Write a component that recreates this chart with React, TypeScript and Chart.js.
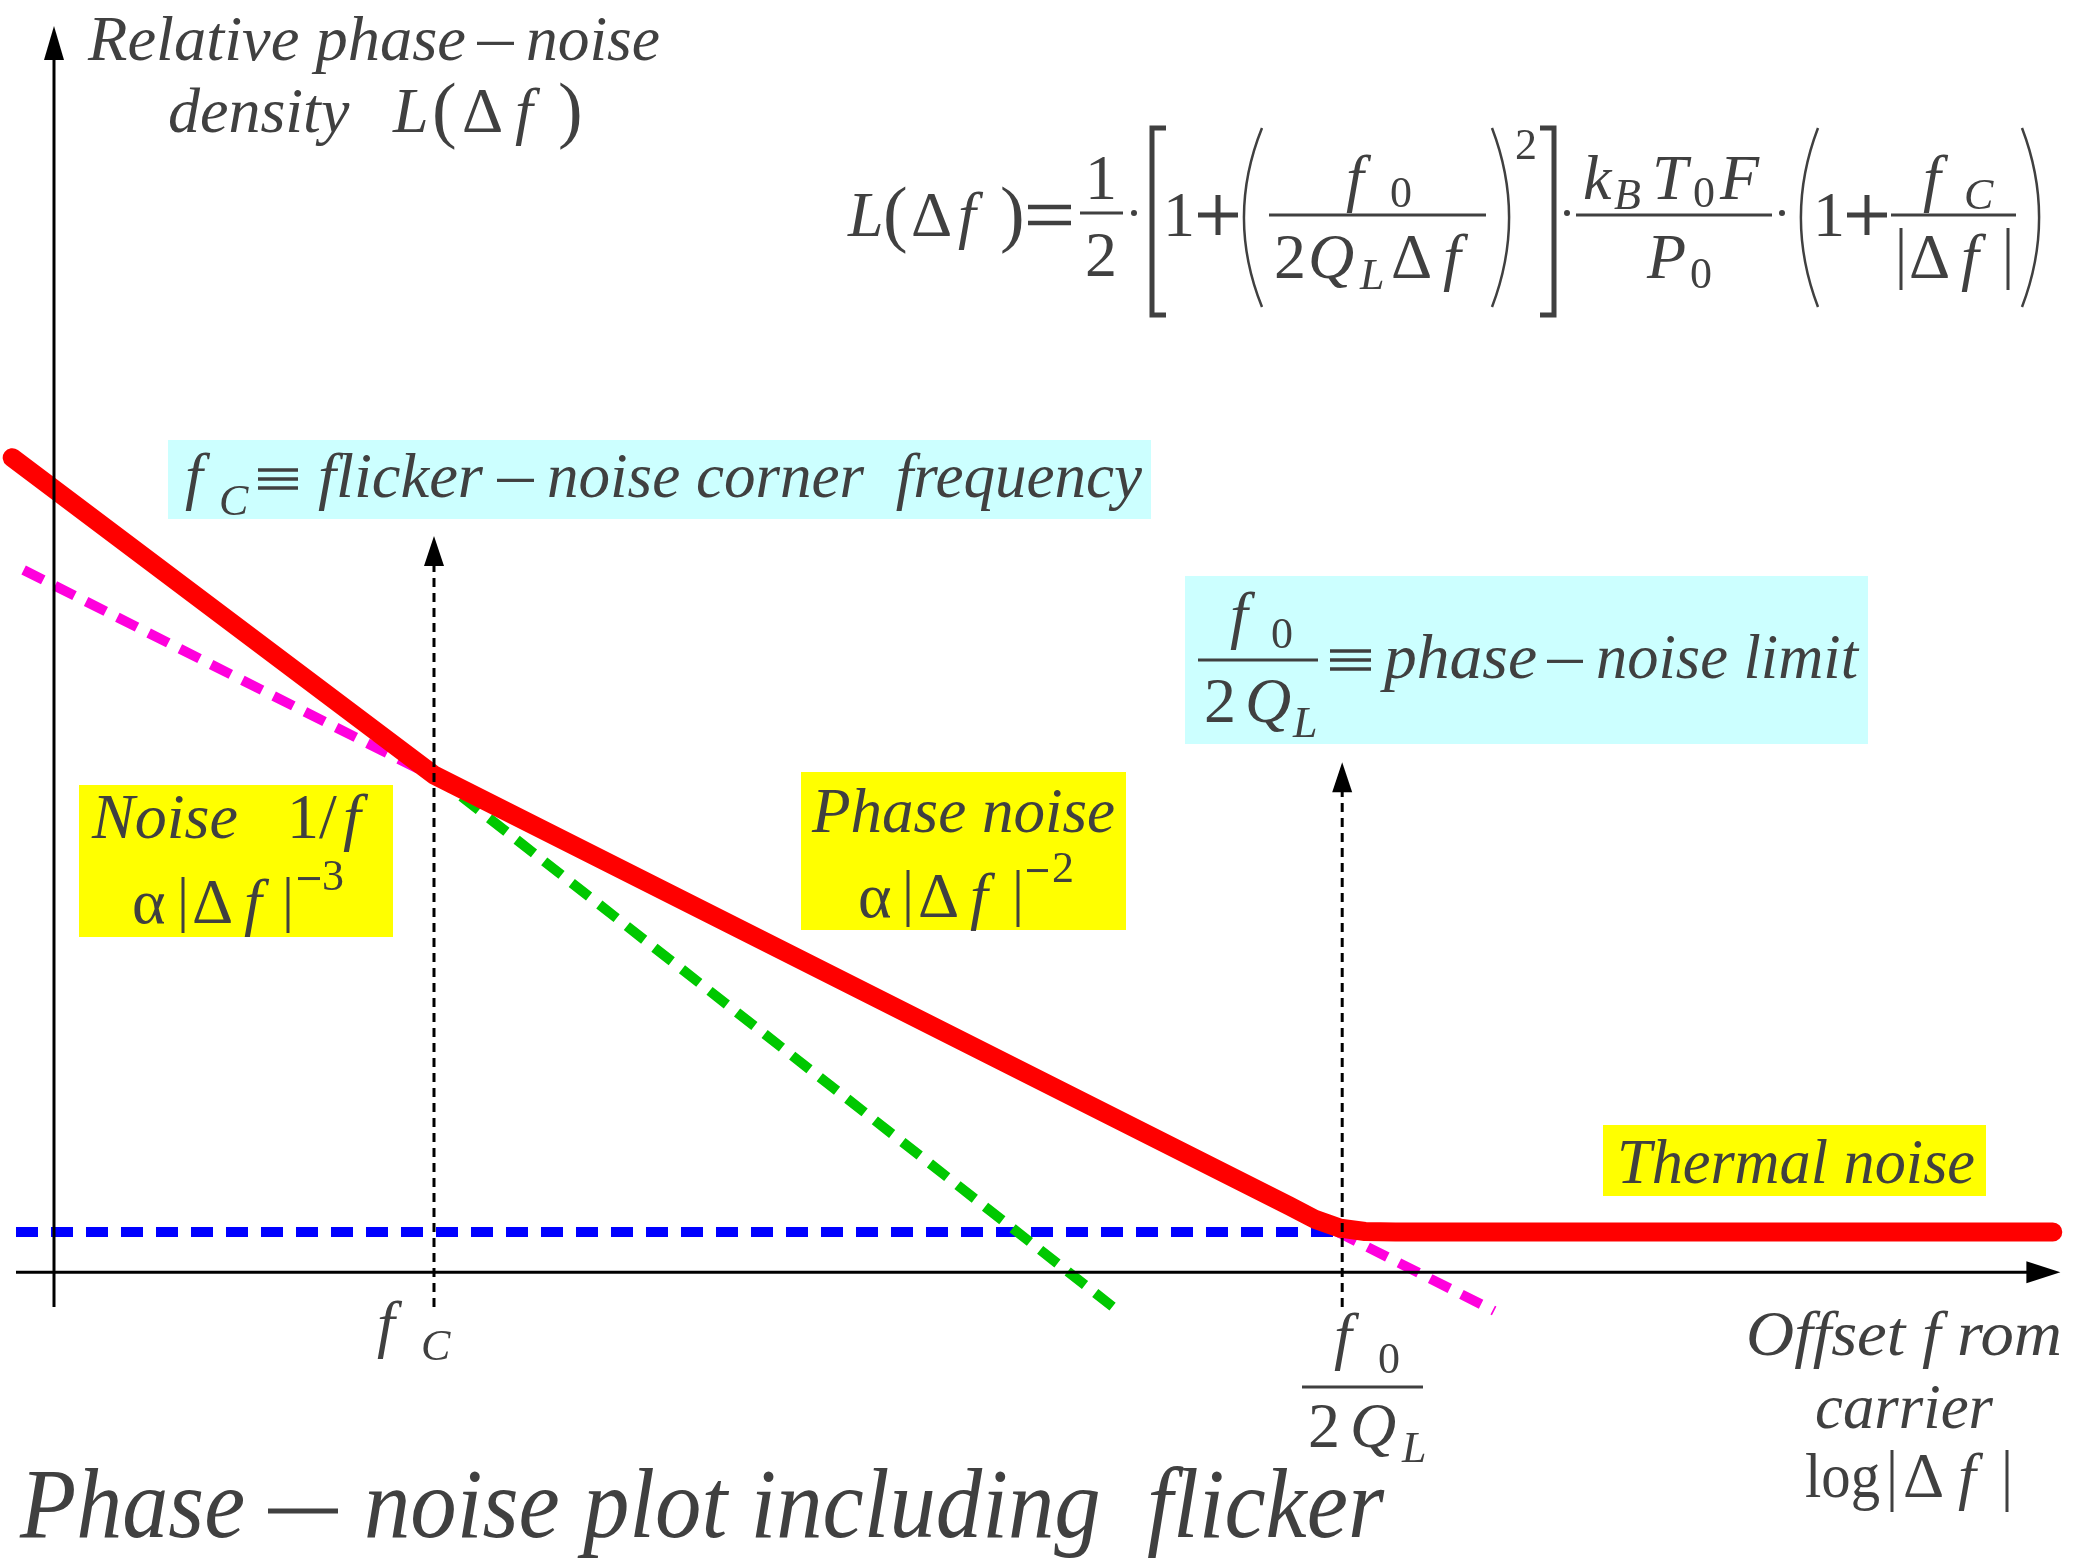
import React, { useEffect, useRef } from 'react';
import { Chart, registerables } from 'chart.js';
Chart.register(...registerables);

// ---------- data: x = log10 offset (decades), y = L(Δf) in dBc/Hz ----------
const totalLogF = [-0.22, 2.0, 6.5, 6.64, 6.77, 6.9, 7.06, 10.52];
const totalDb = [-8, -74.4, -164.5, -167.4, -169.2, -169.9, -170, -170];
const leesonLogF = [-0.16, 7.58];
const leesonDb = [-31.5, -186.5];
const flickerLogF = [2.0, 5.6];
const flickerDb = [-74.4, -186.5];
const thermalLogF = [-0.2, 6.78];
const thermalDb = [-170, -170];
const markerLogF = [2.0, 6.78]; // fC , f0/2QL
const markerTopDb = [-24.4, -71.7];
const markerBottomDb = -185.7;
const xAxisLogF = [-0.2, 10.56];
const xAxisDb = -178.4;
const yAxisLogF = 0;
const yAxisDb = [-185.7, 82.3];

// ---------- layout ----------
const W = 2077;
const H = 1558;
const X_MIN = -0.2842;
const X_MAX = 10.6474;
const Y_MIN = -238.2;
const Y_MAX = 87.74;
const FONT = '"Liberation Serif", "Times New Roman", serif';
const INK = '#404040';

const pts = (xs: number[], ys: number[]) => xs.map((x, i) => ({ x, y: ys[i] }));

function font(ctx: CanvasRenderingContext2D, size: number, it: boolean) {
  ctx.font = `${it ? 'italic ' : ''}${size}px ${FONT}`;
}
function g(ctx: CanvasRenderingContext2D, t: string, x: number, y: number, size = 64, it = false) {
  font(ctx, size, it);
  ctx.fillText(t, x, y);
}
// text fitted between x0 and x1
function fit(ctx: CanvasRenderingContext2D, t: string, x0: number, x1: number, y: number, size = 64, it = true) {
  font(ctx, size, it);
  const w = ctx.measureText(t).width;
  ctx.save();
  ctx.translate(x0, y);
  ctx.scale((x1 - x0) / w, 1);
  ctx.fillText(t, 0, 0);
  ctx.restore();
}
function bar(ctx: CanvasRenderingContext2D, x0: number, x1: number, y: number, th: number) {
  ctx.fillRect(x0, y - th / 2, x1 - x0, th);
}
function minus(ctx: CanvasRenderingContext2D, x0: number, x1: number, base: number, size = 64) {
  bar(ctx, x0, x1, base - 0.26 * size, Math.max(3, size * 0.05));
}
function equiv(ctx: CanvasRenderingContext2D, x0: number, x1: number, cy: number) {
  bar(ctx, x0, x1, cy - 9, 3.5);
  bar(ctx, x0, x1, cy, 3.5);
  bar(ctx, x0, x1, cy + 9, 3.5);
}
function plus(ctx: CanvasRenderingContext2D, cx: number, cy: number, half: number) {
  bar(ctx, cx - half, cx + half, cy, 5);
  ctx.fillRect(cx - 2.5, cy - half, 5, half * 2);
}
function line(ctx: CanvasRenderingContext2D, x1: number, y1: number, x2: number, y2: number, lw = 3) {
  ctx.lineWidth = lw;
  ctx.beginPath();
  ctx.moveTo(x1, y1);
  ctx.lineTo(x2, y2);
  ctx.stroke();
}
function dot(ctx: CanvasRenderingContext2D, x: number, y: number) {
  ctx.beginPath();
  ctx.arc(x, y, 3, 0, Math.PI * 2);
  ctx.fill();
}
function paren(ctx: CanvasRenderingContext2D, xl: number, xr: number, top: number, bot: number, left: boolean) {
  ctx.lineWidth = 2.5;
  ctx.beginPath();
  const w = xr - xl;
  if (left) {
    ctx.moveTo(xr, top);
    ctx.quadraticCurveTo(xl - w * 0.9, (top + bot) / 2, xr, bot);
  } else {
    ctx.moveTo(xl, top);
    ctx.quadraticCurveTo(xr + w * 0.9, (top + bot) / 2, xl, bot);
  }
  ctx.stroke();
}
function bracket(ctx: CanvasRenderingContext2D, xv: number, xs: number, top: number, bot: number) {
  ctx.lineWidth = 5;
  ctx.beginPath();
  ctx.moveTo(xs, top);
  ctx.lineTo(xv, top);
  ctx.lineTo(xv, bot);
  ctx.lineTo(xs, bot);
  ctx.stroke();
}

const overlay = {
  id: 'overlay',
  afterDatasetsDraw(chart: any) {
    const ctx: CanvasRenderingContext2D = chart.ctx;
    const px = (v: number) => chart.scales.x.getPixelForValue(v);
    const py = (v: number) => chart.scales.y.getPixelForValue(v);
    ctx.save();
    ctx.strokeStyle = '#000';
    ctx.fillStyle = '#000';
    // dotted marker lines with arrow heads
    markerLogF.forEach((f, i) => {
      const x = px(f);
      const yt = py(markerTopDb[i]);
      ctx.setLineDash([9, 6]);
      line(ctx, x, py(markerBottomDb), x, yt + 26, 3);
      ctx.setLineDash([]);
      ctx.beginPath();
      ctx.moveTo(x, yt);
      ctx.lineTo(x - 10, yt + 30);
      ctx.lineTo(x + 10, yt + 30);
      ctx.closePath();
      ctx.fill();
    });
    // x axis
    const ax = py(xAxisDb);
    const xr = px(xAxisLogF[1]);
    line(ctx, px(xAxisLogF[0]), ax, xr - 20, ax, 3);
    ctx.beginPath();
    ctx.moveTo(xr, ax);
    ctx.lineTo(xr - 34, ax - 11);
    ctx.lineTo(xr - 34, ax + 11);
    ctx.closePath();
    ctx.fill();
    // y axis
    const ay = px(yAxisLogF);
    const yt = py(yAxisDb[1]);
    line(ctx, ay, py(yAxisDb[0]), ay, yt + 20, 3);
    ctx.beginPath();
    ctx.moveTo(ay, yt);
    ctx.lineTo(ay - 10, yt + 34);
    ctx.lineTo(ay + 10, yt + 34);
    ctx.closePath();
    ctx.fill();
    ctx.restore();
  },
  afterDraw(chart: any) {
    const ctx: CanvasRenderingContext2D = chart.ctx;
    ctx.save();
    ctx.textBaseline = 'alphabetic';
    ctx.textAlign = 'left';
    // boxes
    ctx.fillStyle = '#ccffff';
    ctx.fillRect(168, 440, 983, 79);
    ctx.fillRect(1185, 576, 683, 168);
    ctx.fillStyle = '#ffff00';
    ctx.fillRect(79, 785, 314, 152);
    ctx.fillRect(801, 772, 325, 158);
    ctx.fillRect(1603, 1125, 383, 71);

    ctx.fillStyle = INK;
    ctx.strokeStyle = INK;
    const M = 64;
    const S = 44;
    // y-axis title
    fit(ctx, 'Relative phase', 88, 466, 60);
    minus(ctx, 477, 514, 60);
    fit(ctx, 'noise', 526, 660, 60);
    g(ctx, 'density', 168, 132, M, true);
    g(ctx, 'L', 393, 132, M, true);
    g(ctx, '(', 432, 134, 74, false);
    g(ctx, '\u0394', 462, 132, M, false);
    g(ctx, 'f', 515, 132, M, true);
    g(ctx, ')', 558, 134, 74, false);

    // formula
    g(ctx, 'L', 848, 236, M, true);
    g(ctx, '(', 883, 238, 74, false);
    g(ctx, '\u0394', 911, 236, M, false);
    g(ctx, 'f', 958, 236, M, true);
    g(ctx, ')', 1000, 238, 74, false);
    bar(ctx, 1028, 1071, 207, 4.5);
    bar(ctx, 1028, 1071, 223, 4.5);
    g(ctx, '1', 1085, 199, M, false);
    line(ctx, 1080, 213, 1123, 213, 3);
    g(ctx, '2', 1085, 276, M, false);
    dot(ctx, 1134, 213);
    bracket(ctx, 1152, 1166, 128, 315);
    g(ctx, '1', 1163, 236, M, false);
    plus(ctx, 1218, 215, 20);
    paren(ctx, 1243, 1262, 128, 307, true);
    g(ctx, 'f', 1346, 199, M, true);
    g(ctx, '0', 1390, 207, S, false);
    line(ctx, 1269, 215, 1486, 215, 3);
    g(ctx, '2', 1274, 278, M, false);
    g(ctx, 'Q', 1308, 278, M, true);
    g(ctx, 'L', 1360, 289, S, true);
    g(ctx, '\u0394', 1391, 278, M, false);
    g(ctx, 'f', 1443, 278, M, true);
    paren(ctx, 1492, 1510, 128, 307, false);
    g(ctx, '2', 1515, 159, S, false);
    bracket(ctx, 1554, 1540, 128, 315);
    dot(ctx, 1567, 213);
    g(ctx, 'k', 1583, 199, M, true);
    g(ctx, 'B', 1614, 209, S, true);
    g(ctx, 'T', 1652, 199, M, true);
    g(ctx, '0', 1693, 207, S, false);
    g(ctx, 'F', 1720, 199, M, true);
    line(ctx, 1576, 215, 1772, 215, 3);
    g(ctx, 'P', 1647, 278, M, true);
    g(ctx, '0', 1690, 288, S, false);
    dot(ctx, 1782, 213);
    paren(ctx, 1800, 1818, 128, 307, true);
    g(ctx, '1', 1813, 236, M, false);
    plus(ctx, 1867, 215, 20);
    g(ctx, 'f', 1923, 199, M, true);
    g(ctx, 'C', 1964, 209, S, true);
    line(ctx, 1891, 215, 2016, 215, 3);
    line(ctx, 1901, 228, 1901, 290, 3);
    g(ctx, '\u0394', 1909, 278, M, false);
    g(ctx, 'f', 1961, 278, M, true);
    line(ctx, 2008, 228, 2008, 290, 3);
    paren(ctx, 2022, 2040, 128, 307, false);

    // cyan box 1
    g(ctx, 'f', 185, 497, M, true);
    g(ctx, 'C', 219, 515, S, true);
    equiv(ctx, 258, 298, 479);
    fit(ctx, 'flicker', 318, 483, 497);
    minus(ctx, 497, 534, 497);
    fit(ctx, 'noise corner  frequency', 547, 1142, 497);

    // cyan box 2
    g(ctx, 'f', 1230, 636, M, true);
    g(ctx, '0', 1271, 648, S, false);
    line(ctx, 1198, 660, 1318, 660, 3);
    g(ctx, '2', 1204, 722, M, false);
    g(ctx, 'Q', 1245, 722, M, true);
    g(ctx, 'L', 1293, 737, S, true);
    equiv(ctx, 1330, 1371, 660);
    fit(ctx, 'phase', 1384, 1537, 678);
    minus(ctx, 1547, 1583, 678);
    fit(ctx, 'noise limit', 1596, 1858, 678);

    // yellow box 1
    g(ctx, 'Noise', 92, 838, M, true);
    g(ctx, '1/', 287, 838, M, false);
    g(ctx, 'f', 343, 838, M, true);
    g(ctx, '\u03b1', 132, 923, M, false);
    line(ctx, 183, 877, 183, 933, 3);
    g(ctx, '\u0394', 192, 923, M, false);
    g(ctx, 'f', 244, 923, M, true);
    line(ctx, 288, 877, 288, 933, 3);
    minus(ctx, 298, 320, 890, S);
    g(ctx, '3', 322, 890, S, false);

    // yellow box 2
    fit(ctx, 'Phase noise', 812, 1115, 832);
    g(ctx, '\u03b1', 858, 917, M, false);
    line(ctx, 908, 870, 908, 927, 3);
    g(ctx, '\u0394', 918, 917, M, false);
    g(ctx, 'f', 970, 917, M, true);
    line(ctx, 1018, 870, 1018, 927, 3);
    minus(ctx, 1027, 1048, 882, S);
    g(ctx, '2', 1052, 882, S, false);

    // yellow box 3
    fit(ctx, 'Thermal noise', 1617, 1975, 1183);

    // x-axis markers
    g(ctx, 'f', 377, 1345, M, true);
    g(ctx, 'C', 421, 1360, S, true);
    g(ctx, 'f', 1334, 1357, M, true);
    g(ctx, '0', 1378, 1373, S, false);
    line(ctx, 1302, 1387, 1423, 1387, 3);
    g(ctx, '2', 1308, 1447, M, false);
    g(ctx, 'Q', 1350, 1447, M, true);
    g(ctx, 'L', 1402, 1462, S, true);

    // x-axis title
    fit(ctx, 'Offset f rom', 1746, 2062, 1355);
    fit(ctx, 'carrier', 1815, 1993, 1428);
    fit(ctx, 'log', 1805, 1880, 1497, M, false);
    line(ctx, 1892, 1450, 1892, 1512, 3);
    g(ctx, '\u0394', 1903, 1497, M, false);
    g(ctx, 'f', 1958, 1497, M, true);
    line(ctx, 2007, 1450, 2007, 1512, 3);

    // main title
    fit(ctx, 'Phase', 20, 245, 1537, 100);
    minus(ctx, 268, 338, 1537, 100);
    fit(ctx, 'noise plot including  flicker', 364, 1384, 1537, 100);
    ctx.restore();
  },
};

export default function App() {
  const ref = useRef<HTMLCanvasElement>(null);
  useEffect(() => {
    if (!ref.current) return;
    const dash = { borderDash: [22, 13], borderCapStyle: 'butt' as const, borderWidth: 10, pointRadius: 0, tension: 0 };
    const chart = new Chart(ref.current, {
      type: 'line',
      data: {
        datasets: [
          {
            label: 'L(Δf)',
            data: pts(totalLogF, totalDb),
            borderColor: '#ff0000',
            borderWidth: 19,
            borderCapStyle: 'round',
            borderJoinStyle: 'round',
            pointRadius: 0,
            tension: 0,
            order: 0,
          },
          { label: '1/f² phase noise', data: pts(leesonLogF, leesonDb), borderColor: '#ff00dd', order: 1, ...dash },
          { label: '1/f³ flicker', data: pts(flickerLogF, flickerDb), borderColor: '#00c800', order: 2, ...dash },
          { label: 'thermal', data: pts(thermalLogF, thermalDb), borderColor: '#0000ff', order: 3, ...dash },
        ],
      },
      options: {
        animation: false,
        responsive: false,
        devicePixelRatio: 1,
        layout: { padding: 0 },
        plugins: { legend: { display: false }, tooltip: { enabled: false } },
        elements: { line: { fill: false } },
        scales: {
          x: { type: 'linear', min: X_MIN, max: X_MAX, display: false },
          y: { type: 'linear', min: Y_MIN, max: Y_MAX, display: false },
        },
      },
      plugins: [overlay],
    });
    return () => chart.destroy();
  }, []);
  return (
    <div style={{ position: 'absolute', left: 0, top: 0, width: W, height: H, background: '#fff' }}>
      <canvas ref={ref} width={W} height={H} style={{ display: 'block', width: W, height: H }} />
    </div>
  );
}
